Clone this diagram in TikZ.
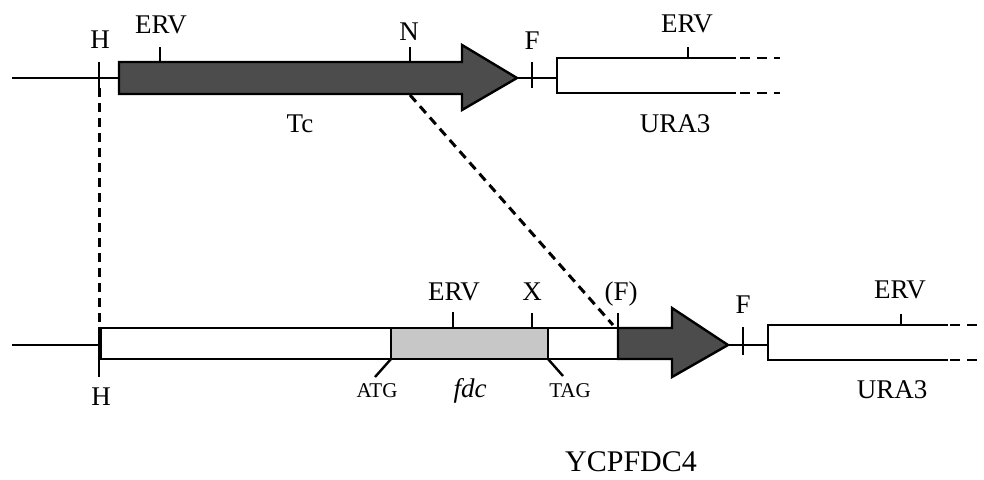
\documentclass[tikz,border=0pt]{standalone}
\usepackage{fontspec}
\setmainfont{Liberation Serif}
\begin{document}
\begin{tikzpicture}[x=1pt,y=-1pt,line width=2.4pt,line join=miter,
  lbl/.style={font=\fontsize{27}{30}\selectfont,anchor=base,inner sep=0pt},
  sml/.style={font=\fontsize{21}{24}\selectfont,anchor=base,inner sep=0pt},
  big/.style={font=\fontsize{30}{34}\selectfont,anchor=base,inner sep=0pt},
  darkfill/.style={draw=black,fill=black!70},
  lightfill/.style={draw=black,fill=black!22},
  linkdash/.style={line width=3pt,dash pattern=on 9pt off 6pt},
  taildash/.style={line width=2.4pt,dash pattern=on 10pt off 7pt}]
\useasboundingbox (0,0) rectangle (984,479);

% ---------- top construct ----------
\draw (12,78) -- (119,78);
\draw (99,62) -- (99,88);
\coordinate (hA) at (99,88);
\draw[darkfill] (119,62) -- (462,62) -- (462,45) -- (517,78) -- (462,110) -- (462,94) -- (119,94) -- cycle;
\draw (160,47) -- (160,62);
\draw (410,47) -- (410,62);
\coordinate (nA) at (410,95);
\draw (517,78) -- (557,78);
\draw (532,62) -- (532,88);
\draw (736,58) -- (557,58) -- (557,93) -- (736,93);
\draw[taildash] (740,58) -- (780,58);
\draw[taildash] (740,93) -- (780,93);
\draw (688,47) -- (688,58);

\node[lbl] (h1) at (100,48) {H};
\node[lbl] (erv1) at (161,33) {ERV};
\node[lbl] (n1) at (409,40) {N};
\node[lbl] (f1) at (532,49) {F};
\node[lbl] (erv2) at (687,32) {ERV};
\node[lbl] (tc) at (300,132) {Tc};
\node[lbl] (ura1) at (675,132) {URA3};

% ---------- bottom construct ----------
\draw (12,345) -- (99,345);
\draw (99,327) -- (99,377);
\coordinate (hB) at (99,327);
\draw (101,328) rectangle (391,359);
\draw[lightfill] (391,328) rectangle (548,359);
\draw (548,328) rectangle (618,359);
\draw[darkfill] (618,328) -- (672,328) -- (672,308) -- (728,345) -- (672,377) -- (672,359) -- (618,359) -- cycle;
\draw (453,312) -- (453,328);
\draw (532,313) -- (532,328);
\draw (618,313) -- (618,328);
\coordinate (fB) at (613,325);
\draw (391,359) -- (375,377);
\draw (548,359) -- (563,376);
\draw (728,345) -- (768,345);
\draw (743,327) -- (743,355);
\draw (948,325) -- (768,325) -- (768,360) -- (948,360);
\draw[taildash] (950,325) -- (984,325);
\draw[taildash] (950,360) -- (984,360);
\draw (901,314) -- (901,325);

\node[lbl] (erv3) at (454,300) {ERV};
\node[lbl] (x1) at (532,300) {X};
\node[lbl] (f2) at (621,300) {(F)};
\node[lbl] (f3) at (743,313) {F};
\node[lbl] (erv4) at (900,298) {ERV};
\node[lbl] (h2) at (101,405) {H};
\node[sml] (atg) at (377,397) {ATG};
\node[sml] (tag) at (570,397) {TAG};
\node[lbl] (fdc) at (470,397) {\itshape fdc};
\node[lbl] (ura2) at (892,398) {URA3};
\node[big] (ycp) at (631,471) {YCPFDC4};

% ---------- correspondence lines ----------
\draw[linkdash] (hA) -- (hB);
\draw[linkdash] (nA) -- (fB);
\end{tikzpicture}
\end{document}
